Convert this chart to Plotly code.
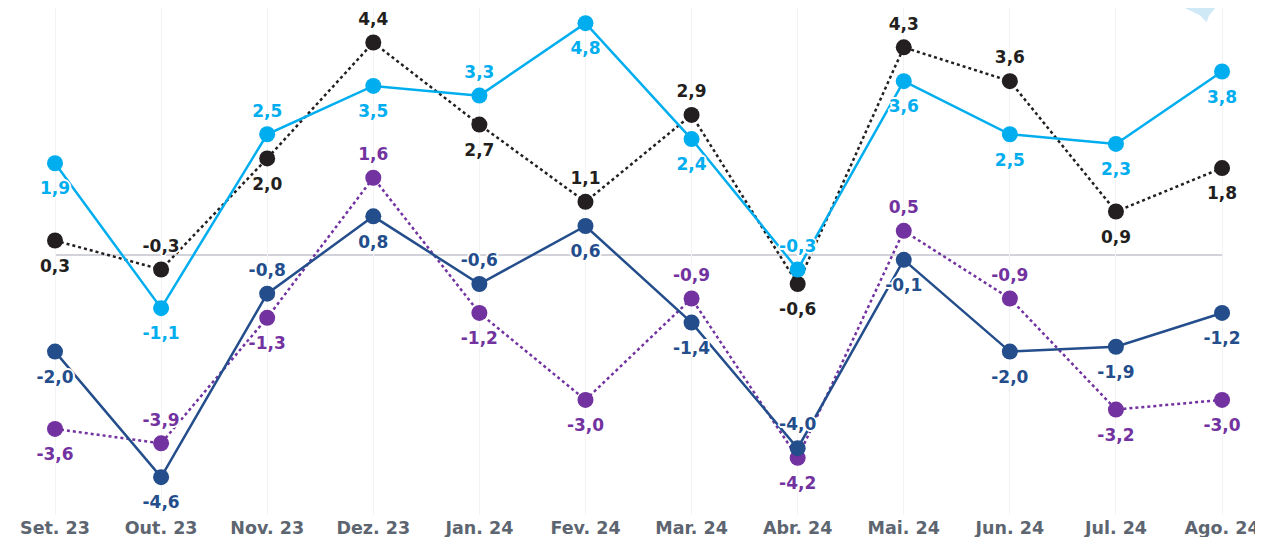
import plotly.graph_objects as go

categories = ["Set. 23", "Out. 23", "Nov. 23", "Dez. 23", "Jan. 24", "Fev. 24",
              "Mar. 24", "Abr. 24", "Mai. 24", "Jun. 24", "Jul. 24", "Ago. 24"]

light_blue = [1.9, -1.1, 2.5, 3.5, 3.3, 4.8, 2.4, -0.3, 3.6, 2.5, 2.3, 3.8]
black = [0.3, -0.3, 2.0, 4.4, 2.7, 1.1, 2.9, -0.6, 4.3, 3.6, 0.9, 1.8]
dark_blue = [-2.0, -4.6, -0.8, 0.8, -0.6, 0.6, -1.4, -4.0, -0.1, -2.0, -1.9, -1.2]
purple = [-3.6, -3.9, -1.3, 1.6, -1.2, -3.0, -0.9, -4.2, 0.5, -0.9, -3.2, -3.0]

# label placement (t = above, b = below)
pos_light_blue = ["b", "b", "t", "b", "t", "b", "b", "t", "b", "b", "b", "b"]
pos_black = ["b", "t", "b", "t", "b", "t", "t", "b", "t", "t", "b", "b"]
pos_dark_blue = ["b", "b", "t", "b", "t", "b", "b", "t", "b", "b", "b", "b"]
pos_purple = ["b", "t", "b", "t", "b", "b", "t", "b", "t", "t", "b", "b"]

C_LB = "#00aeef"
C_BK = "#231f20"
C_DB = "#234d8b"
C_PU = "#7232a0"

x = list(range(len(categories)))
fig = go.Figure()

series = [
    (purple, pos_purple, C_PU, "dot"),
    (dark_blue, pos_dark_blue, C_DB, "solid"),
    (black, pos_black, C_BK, "dot"),
    (light_blue, pos_light_blue, C_LB, "solid"),
]

for vals, pos, col, dash in series:
    fig.add_trace(go.Scatter(
        x=x, y=vals, mode="lines+markers",
        line=dict(color=col, width=2.5, dash=dash),
        marker=dict(color=col, size=16),
        hoverinfo="skip", showlegend=False,
    ))

halo = ("-1px -1px 0 #fff, 1px -1px 0 #fff, -1px 1px 0 #fff, 1px 1px 0 #fff, "
        "0 -2px 0 #fff, 0 2px 0 #fff, -2px 0 0 #fff, 2px 0 0 #fff")

for vals, pos, col, dash in series:
    fig.add_trace(go.Scatter(
        x=x, y=vals, mode="markers+text",
        marker=dict(size=[20 if p == "t" else 28 for p in pos], opacity=0, color=col),
        text=[f"{v:.1f}".replace(".", ",") for v in vals],
        textposition=["top center" if p == "t" else "bottom center" for p in pos],
        textfont=dict(color=col, size=17, family="DejaVu Sans", weight="bold",
                      shadow=halo),
        hoverinfo="skip", showlegend=False,
    ))

fig.add_shape(type="line", xref="x", yref="y", x0=0, x1=11, y0=0, y1=0,
              line=dict(color="#d2d3da", width=2), layer="below")

# partial logo at top right
fig.add_shape(type="path", xref="paper", yref="paper",
              path="M 0.9375 1 L 0.962 1 L 0.957 0.985 L 0.955 0.972 L 0.950 0.985 Z",
              fillcolor="#cfe9f7", line=dict(width=0), layer="below")

fig.update_layout(
    width=1255, height=529,
    margin=dict(l=0, r=0, t=0, b=22, autoexpand=False),
    plot_bgcolor="white", paper_bgcolor="white",
    xaxis=dict(
        range=[-0.443, 11.386], tickmode="array", tickvals=x, ticktext=categories,
        showgrid=True, gridcolor="#f3f3f3", gridwidth=1, zeroline=False,
        showline=False, ticks="", automargin=False,
        tickfont=dict(family="DejaVu Sans", size=17.5, color="#5d6570", weight="bold"),
    ),
    yaxis=dict(
        range=[-5.383, 5.114], showgrid=False, zeroline=False, showticklabels=False,
        showline=False, ticks="", automargin=False,
    ),
)

fig.write_html("out.html")
